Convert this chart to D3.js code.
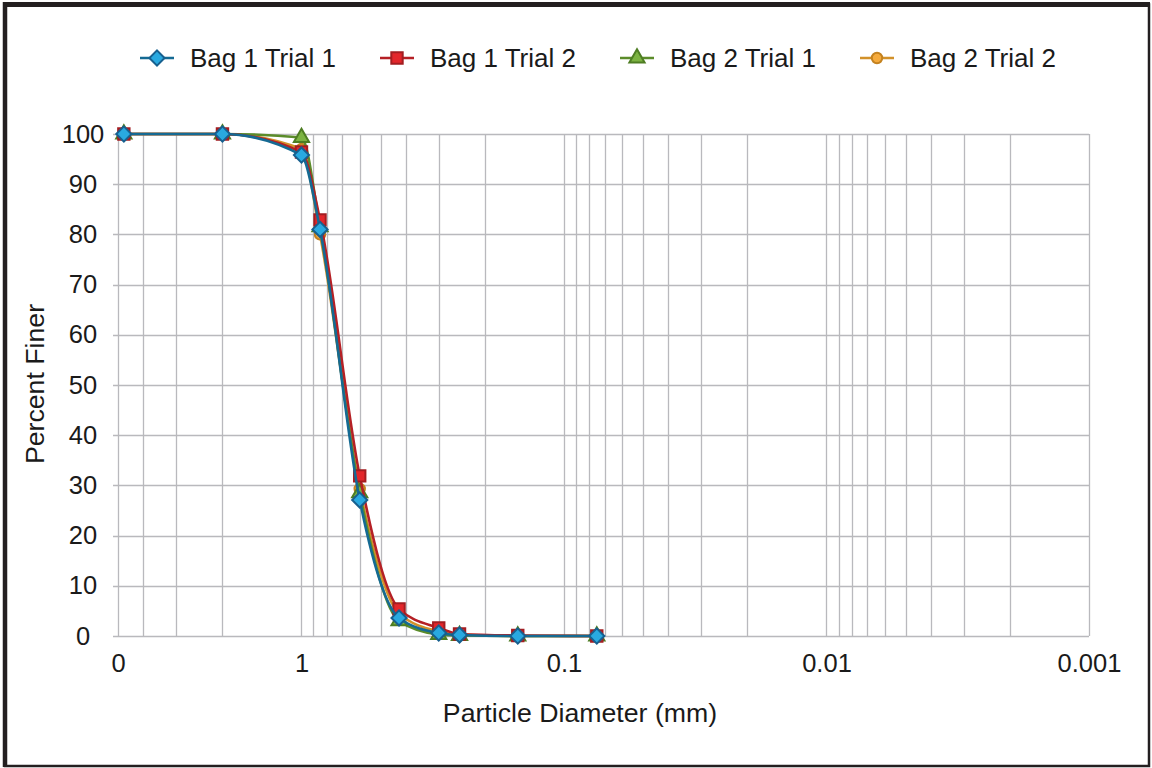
<!DOCTYPE html>
<html>
<head>
<meta charset="utf-8">
<script src="https://cdn.jsdelivr.net/npm/d3@7"></script>
<style>
  body { margin: 0; background: #fff; }
  svg { display: block; font-family: "Liberation Sans", Arial, Helvetica, sans-serif; }
</style>
</head>
<body>
<svg id="chart" width="1152" height="768"></svg>
<script>
// sieve sizes (mm) and percent finer for each run
var sizes      = [4.75, 2.0, 1.0, 0.85, 0.6, 0.425, 0.3, 0.25, 0.15, 0.075];
var bag1Trial1 = [100, 100, 95.8, 81.0, 27.1, 3.6, 0.6, 0.2, 0, 0];
var bag1Trial2 = [100, 100, 96.4, 82.9, 31.9, 5.4, 1.6, 0.4, 0.1, 0];
var bag2Trial1 = [100, 100, 99.3, 81.5, 28.5, 3.0, 0.3, 0.1, 0, 0];
var bag2Trial2 = [100, 100, 97.0, 80.0, 29.3, 4.5, 0.9, 0.3, 0, 0];
var seriesNames = ["Bag 1 Trial 1", "Bag 1 Trial 2", "Bag 2 Trial 1", "Bag 2 Trial 2"];

var xTickValues = [5, 1, 0.1, 0.01, 0.001];
var xTickLabels = ["0", "1", "0.1", "0.01", "0.001"];
var yTickValues = [0, 10, 20, 30, 40, 50, 60, 70, 80, 90, 100];

var svg = d3.select("#chart"),
    plot = {left: 118, right: 1089, top: 134, bottom: 636};

var x = d3.scaleLog().domain([5, 0.001]).range([plot.left, plot.right]);
var y = d3.scaleLinear().domain([0, 100]).range([plot.bottom, plot.top]);

// image frame
svg.append("rect").attr("x", 5).attr("y", 4.5).attr("width", 1144).attr("height", 761.5)
  .attr("fill", "none").attr("stroke", "#231f20").attr("stroke-width", 2.5);
svg.append("line").attr("x1", 5).attr("x2", 5).attr("y1", 2).attr("y2", 767)
  .attr("stroke", "#231f20").attr("stroke-width", 4.5);
svg.append("line").attr("x1", 3).attr("x2", 1150).attr("y1", 4.5).attr("y2", 4.5)
  .attr("stroke", "#231f20").attr("stroke-width", 5);

// gridlines
var grid = svg.append("g").attr("stroke", "#b9b9bd").attr("stroke-width", 1.3);
grid.selectAll(".vg").data(x.ticks()).enter().append("line")
  .attr("x1", function(d) { return Math.round(x(d)) + 0.5; })
  .attr("x2", function(d) { return Math.round(x(d)) + 0.5; })
  .attr("y1", plot.top).attr("y2", plot.bottom);
grid.selectAll(".hg").data(yTickValues).enter().append("line")
  .attr("x1", plot.left - 5).attr("x2", plot.right)
  .attr("y1", function(d) { return Math.round(y(d)) + 0.5; })
  .attr("y2", function(d) { return Math.round(y(d)) + 0.5; });

// axes labels
var yAxis = svg.append("g").attr("transform", "translate(" + plot.left + ",0)")
  .call(d3.axisLeft(y).tickValues(yTickValues).tickSize(0).tickPadding(35));
yAxis.select(".domain").remove();
yAxis.selectAll("text").attr("font-size", 25.5).attr("fill", "#1a1a1a")
  .attr("text-anchor", "middle")
  .attr("font-family", "Liberation Sans, Arial, sans-serif");

var xAxis = svg.append("g").attr("transform", "translate(0," + plot.bottom + ")")
  .call(d3.axisBottom(x).tickValues(xTickValues).tickSize(0).tickPadding(18)
    .tickFormat(function(d, i) { return xTickLabels[i]; }));
xAxis.select(".domain").remove();
xAxis.selectAll("text").attr("font-size", 25.5).attr("fill", "#1a1a1a")
  .attr("font-family", "Liberation Sans, Arial, sans-serif");

svg.append("text").attr("x", 580).attr("y", 722).attr("text-anchor", "middle")
  .attr("font-size", 26.7).attr("fill", "#1a1a1a").text("Particle Diameter (mm)");
svg.append("text").attr("transform", "translate(44,384) rotate(-90)").attr("text-anchor", "middle")
  .attr("font-size", 26.7).attr("fill", "#1a1a1a").text("Percent Finer");

// rotated-square diamond like the reference markers
var squareDiamond = {
  draw: function(context, size) {
    var r = Math.sqrt(size / 2);
    context.moveTo(0, -r); context.lineTo(r, 0); context.lineTo(0, r); context.lineTo(-r, 0);
    context.closePath();
  }
};

// series
var series = [
  {name: seriesNames[3], values: bag2Trial2, line: "#d2912a", fill: "#f5aa3c", stroke: "#c4821f", sym: d3.symbolCircle, size: 85},
  {name: seriesNames[2], values: bag2Trial1, line: "#5b8c2a", fill: "#7cb342", stroke: "#4e7d23", sym: d3.symbolTriangle, size: 100},
  {name: seriesNames[1], values: bag1Trial2, line: "#b52025", fill: "#e3262b", stroke: "#a31d21", sym: d3.symbolSquare, size: 130},
  {name: seriesNames[0], values: bag1Trial1, line: "#156a93", fill: "#29a9e0", stroke: "#17608f", sym: squareDiamond, size: 115}
];

var line = d3.line()
  .x(function(d) { return x(d[0]); })
  .y(function(d) { return y(d[1]); })
  .curve(d3.curveMonotoneX);

series.forEach(function(s) {
  var pts = sizes.map(function(v, i) { return [v, s.values[i]]; });
  svg.append("path").datum(pts).attr("d", line)
    .attr("fill", "none").attr("stroke", s.line).attr("stroke-width", 2.6);
  svg.append("g").selectAll("path").data(pts).enter().append("path")
    .attr("transform", function(d) { return "translate(" + x(d[0]) + "," + y(d[1]) + ")"; })
    .attr("d", d3.symbol().type(s.sym).size(s.size))
    .attr("fill", s.fill).attr("stroke", s.stroke).attr("stroke-width", 2);
});

// legend
var legendItems = series.slice().reverse();
var legend = svg.append("g").selectAll("g").data(legendItems).enter().append("g")
  .attr("transform", function(d, i) { return "translate(" + (157 + i * 240) + ",58)"; });
legend.append("line").attr("x1", -17).attr("x2", 17)
  .attr("stroke", function(d) { return d.line; }).attr("stroke-width", 2.6);
legend.append("path")
  .attr("d", function(d) { return d3.symbol().type(d.sym).size(d.size)(); })
  .attr("fill", function(d) { return d.fill; })
  .attr("stroke", function(d) { return d.stroke; }).attr("stroke-width", 2);
legend.append("text").attr("x", 33).attr("dy", "0.35em")
  .attr("font-size", 26).attr("fill", "#1a1a1a")
  .text(function(d) { return d.name; });
</script>
</body>
</html>
